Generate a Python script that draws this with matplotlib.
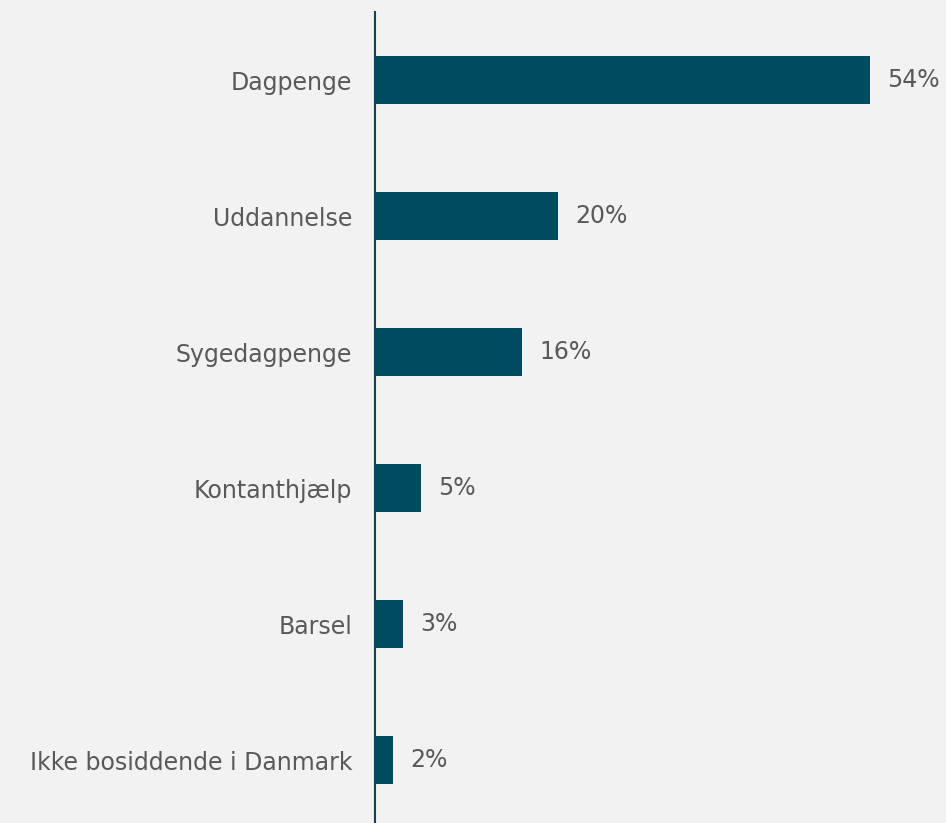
import matplotlib.pyplot as plt

plt.rcParams['font.family'] = ['DejaVu Sans']

# andel pr. ydelsestype (%)
kategorier = ["Dagpenge", "Uddannelse", "Sygedagpenge", "Kontanthjælp", "Barsel",
              "Ikke bosiddende i Danmark"]
andele = [54, 20, 16, 5, 3, 2]

bg = "#f2f2f2"
bar_farve = "#004b5e"
tekst_farve = "#595959"

fig = plt.figure(figsize=(9.46, 8.23), dpi=100, facecolor=bg)
ax = fig.add_axes([375 / 946, 0, 571 / 946, 811 / 823], facecolor=bg)

pos = list(range(len(kategorier)))
ax.barh(pos, andele, height=0.35, color=bar_farve)

for p, v in zip(pos, andele):
    ax.annotate(f"{v}%", (v, p), xytext=(12.5, 0), textcoords="offset points",
                va="center", ha="left", fontsize=17, color=tekst_farve)

ax.set_xlim(0, 571 / (495 / 54))
ax.set_ylim(5.463, -0.5)
ax.set_yticks(pos)
ax.set_yticklabels(kategorier, fontsize=17, color=tekst_farve)
ax.tick_params(axis="y", length=0, pad=16.5)
ax.set_xticks([])

for s in ["top", "right", "bottom"]:
    ax.spines[s].set_visible(False)
ax.spines["left"].set_color(bar_farve)
ax.spines["left"].set_linewidth(1.5)

fig.savefig("out.png", dpi=100, facecolor=bg)
